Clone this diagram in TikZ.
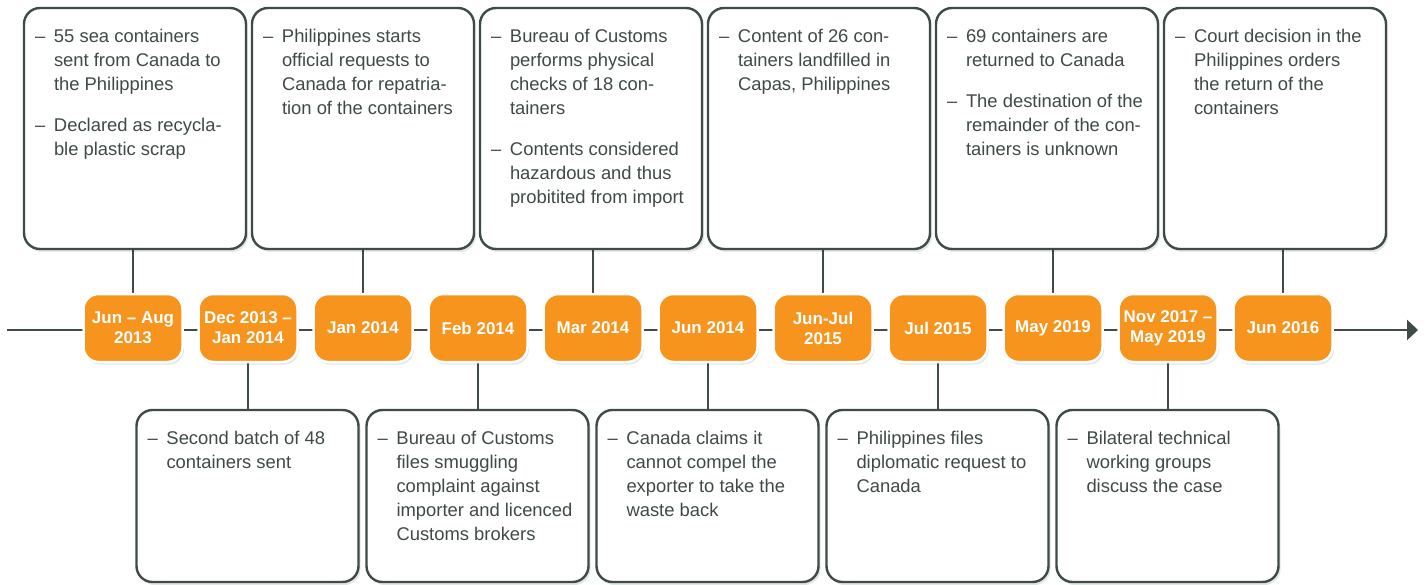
\documentclass[tikz,border=0pt]{standalone}
\usepackage{fontspec}
\setmainfont{Liberation Sans}
\usetikzlibrary{arrows.meta,shadows}
\definecolor{orng}{HTML}{F7941D}
\definecolor{edgec}{HTML}{3E4B49}
\definecolor{txtc}{HTML}{3F4A48}
\pgfdeclarelayer{bg}
\pgfsetlayers{bg,main}
\newenvironment{items}{\begin{tabular}{@{}p{19pt}@{}l@{}}}{\end{tabular}}
\begin{document}
\begin{tikzpicture}[x=1pt,y=-1pt,
  card/.style={draw=edgec, line width=2.4pt, rounded corners=16pt, fill=white,
    inner sep=0pt, minimum width=222pt,
    drop shadow={shadow xshift=2pt, shadow yshift=-3pt, opacity=0.10, fill=black}},
  topcard/.style={card, minimum height=241pt},
  botcard/.style={card, minimum height=172pt},
  datebox/.style={draw=white, line width=2.5pt, fill=orng, rounded corners=15pt,
    minimum width=99pt, minimum height=68pt, inner sep=0pt, align=center,
    text=white, font=\bfseries\fontsize{17}{20}\selectfont,
    drop shadow={shadow xshift=1.5pt, shadow yshift=-2.5pt, opacity=0.10, fill=black}},
  ctext/.style={anchor=north west, inner sep=0pt, text=txtc,
    font=\fontsize{18.4}{24}\selectfont},
  conn/.style={draw=edgec, line width=2.4pt},
  tl/.style={draw=edgec, line width=2.6pt, -{Triangle[length=11pt,width=20pt]}}]
\useasboundingbox (0,0) rectangle (1426,585);

% timeline end points
\coordinate (tlstart) at (7,330);
\coordinate (tlend) at (1418,330);

% date boxes
\node[datebox] (d1)  at (133,328)  {Jun -- Aug\\2013};
\node[datebox] (d2)  at (248,328)  {Dec 2013 --\\Jan 2014};
\node[datebox] (d3)  at (363,328)  {Jan 2014};
\node[datebox] (d4)  at (478,328)  {Feb 2014};
\node[datebox] (d5)  at (593,328)  {Mar 2014};
\node[datebox] (d6)  at (708,328)  {Jun 2014};
\node[datebox] (d7)  at (823,328)  {Jun-Jul\\2015};
\node[datebox] (d8)  at (938,328)  {Jul 2015};
\node[datebox] (d9)  at (1053,328) {May 2019};
\node[datebox] (d10) at (1168,328) {Nov 2017 --\\May 2019};
\node[datebox] (d11) at (1283,328) {Jun 2016};

% top cards
\node[topcard] (t1) at (135,128.5) {};
\node[topcard] (t2) at (363,128.5) {};
\node[topcard] (t3) at (591,128.5) {};
\node[topcard] (t4) at (819,128.5) {};
\node[topcard] (t5) at (1047,128.5) {};
\node[topcard] (t6) at (1275,128.5) {};

% bottom cards
\node[botcard] (b1) at (247.5,496) {};
\node[botcard] (b2) at (477.5,496) {};
\node[botcard] (b3) at (707.5,496) {};
\node[botcard] (b4) at (937.5,496) {};
\node[botcard] (b5) at (1167.5,496) {};

% texts of top cards
\node[ctext] (t1x) at ([xshift=12pt,yshift=-19pt]t1.north west) {\begin{items}
–&55 sea containers\\
&sent from Canada to\\
&the Philippines\\[17pt]
–&Declared as recycla-\\
&ble plastic scrap
\end{items}};
\node[ctext] (t2x) at ([xshift=12pt,yshift=-19pt]t2.north west) {\begin{items}
–&Philippines starts\\
&official requests to\\
&Canada for repatria-\\
&tion of the containers
\end{items}};
\node[ctext] (t3x) at ([xshift=12pt,yshift=-19pt]t3.north west) {\begin{items}
–&Bureau of Customs\\
&performs physical\\
&checks of 18 con-\\
&tainers\\[17pt]
–&Contents considered\\
&hazardous and thus\\
&probitited from import
\end{items}};
\node[ctext] (t4x) at ([xshift=12pt,yshift=-19pt]t4.north west) {\begin{items}
–&Content of 26 con-\\
&tainers landfilled in\\
&Capas, Philippines
\end{items}};
\node[ctext] (t5x) at ([xshift=12pt,yshift=-19pt]t5.north west) {\begin{items}
–&69 containers are\\
&returned to Canada\\[17pt]
–&The destination of the\\
&remainder of the con-\\
&tainers is unknown
\end{items}};
\node[ctext] (t6x) at ([xshift=12pt,yshift=-19pt]t6.north west) {\begin{items}
–&Court decision in the\\
&Philippines orders\\
&the return of the\\
&containers
\end{items}};

% texts of bottom cards
\node[ctext] (b1x) at ([xshift=12pt,yshift=-19pt]b1.north west) {\begin{items}
–&Second batch of 48\\
&containers sent
\end{items}};
\node[ctext] (b2x) at ([xshift=12pt,yshift=-19pt]b2.north west) {\begin{items}
–&Bureau of Customs\\
&files smuggling\\
&complaint against\\
&importer and licenced\\
&Customs brokers
\end{items}};
\node[ctext] (b3x) at ([xshift=12pt,yshift=-19pt]b3.north west) {\begin{items}
–&Canada claims it\\
&cannot compel the\\
&exporter to take the\\
&waste back
\end{items}};
\node[ctext] (b4x) at ([xshift=12pt,yshift=-19pt]b4.north west) {\begin{items}
–&Philippines files\\
&diplomatic request to\\
&Canada
\end{items}};
\node[ctext] (b5x) at ([xshift=12pt,yshift=-19pt]b5.north west) {\begin{items}
–&Bilateral technical\\
&working groups\\
&discuss the case
\end{items}};

% connectors and timeline behind
\begin{pgfonlayer}{bg}
\path[tl] (tlstart) -- (tlend);
\path[conn] (d1.north) -- (d1.north |- t1.south);
\path[conn] (d3.north) -- (d3.north |- t2.south);
\path[conn] (d5.north) -- (d5.north |- t3.south);
\path[conn] (d7.north) -- (d7.north |- t4.south);
\path[conn] (d9.north) -- (d9.north |- t5.south);
\path[conn] (d11.north) -- (d11.north |- t6.south);
\path[conn] (d2.south) -- (d2.south |- b1.north);
\path[conn] (d4.south) -- (d4.south |- b2.north);
\path[conn] (d6.south) -- (d6.south |- b3.north);
\path[conn] (d8.south) -- (d8.south |- b4.north);
\path[conn] (d10.south) -- (d10.south |- b5.north);
\end{pgfonlayer}
\end{tikzpicture}
\end{document}
